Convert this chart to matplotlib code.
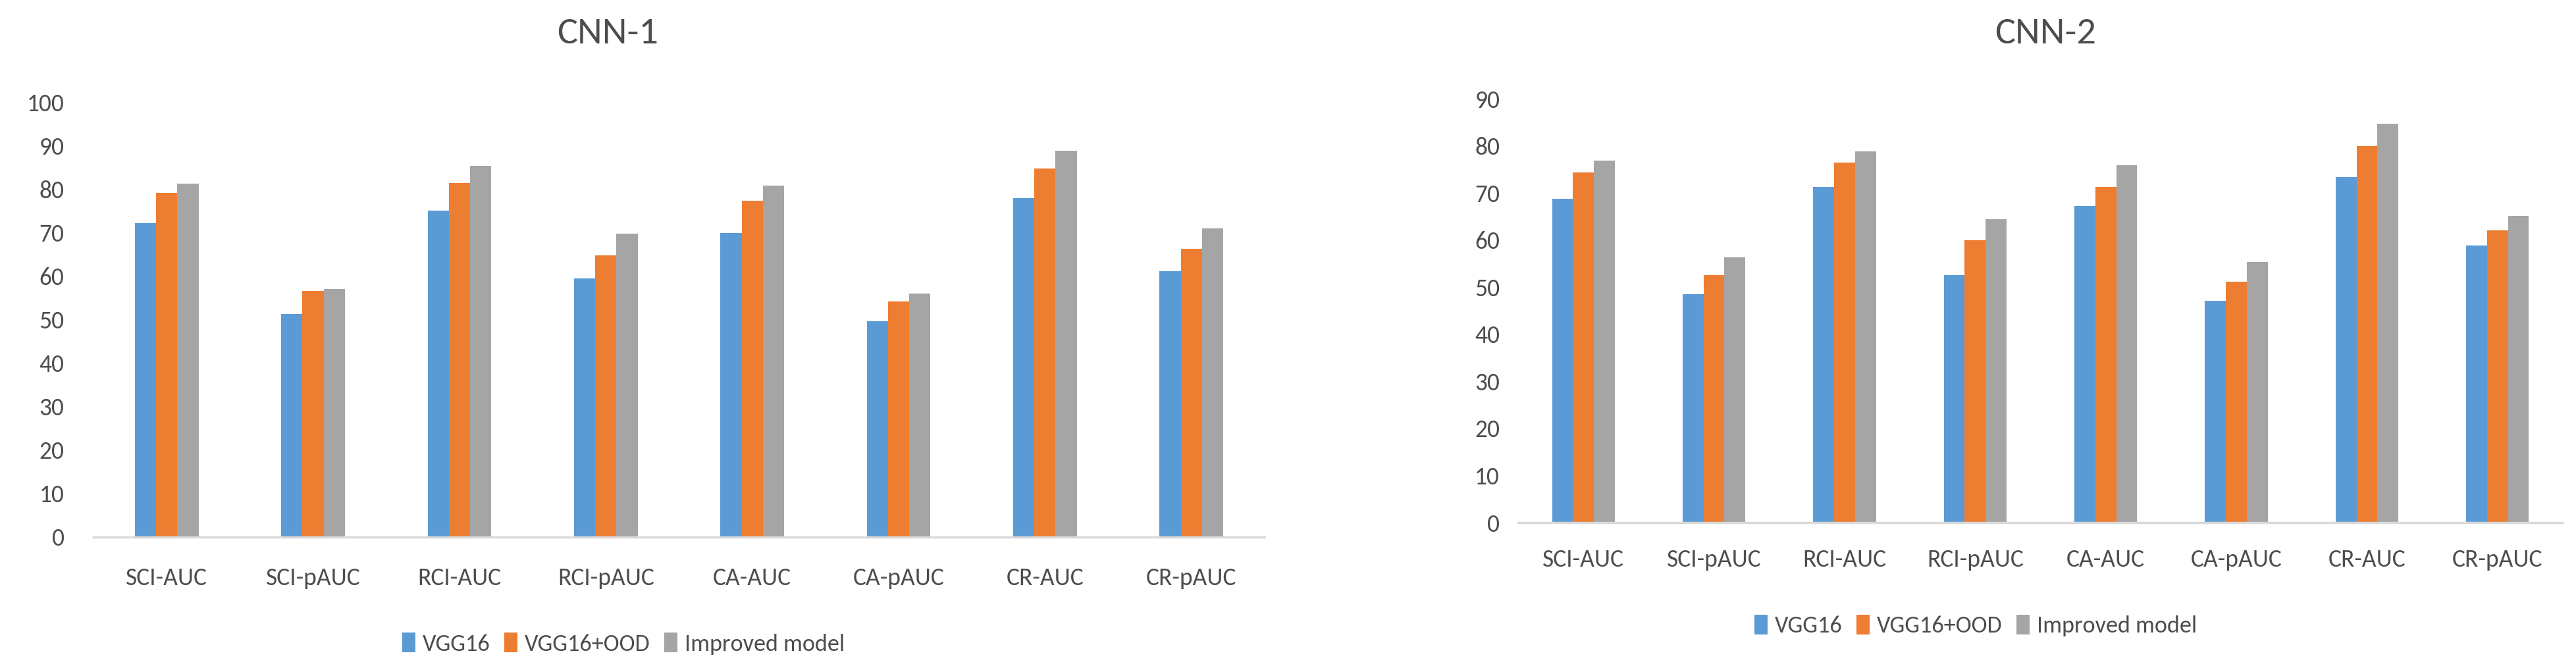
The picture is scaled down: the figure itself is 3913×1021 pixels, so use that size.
import matplotlib
matplotlib.use("Agg")
import matplotlib.pyplot as plt
import numpy as np
from matplotlib import font_manager

# categories and values
categories = ["SCI-AUC", "SCI-pAUC", "RCI-AUC", "RCI-pAUC", "CA-AUC", "CA-pAUC", "CR-AUC", "CR-pAUC"]
series_names = ["VGG16", "VGG16+OOD", "Improved model"]

cnn1_vgg16 = [72.2, 51.3, 75.0, 59.4, 69.9, 49.7, 78.0, 61.2]
cnn1_vgg16_ood = [79.1, 56.6, 81.4, 64.7, 77.4, 54.1, 84.8, 66.3]
cnn1_improved = [81.3, 57.1, 85.3, 69.8, 80.8, 56.0, 88.9, 70.9]

cnn2_vgg16 = [68.7, 48.5, 71.3, 52.5, 67.2, 47.1, 73.4, 58.9]
cnn2_vgg16_ood = [74.4, 52.6, 76.5, 59.9, 71.3, 51.2, 80.0, 62.0]
cnn2_improved = [76.9, 56.3, 78.9, 64.5, 75.9, 55.3, 84.7, 65.1]

cnn1_ticks = list(range(0, 101, 10))
cnn2_ticks = list(range(0, 91, 10))

colors = ["#5B9BD5", "#ED7D31", "#A5A5A5"]
text_color = "#4D4D4D"

# pick a narrow-ish font if one is around (Excel used Calibri)
installed = {f.name for f in font_manager.fontManager.ttflist}
family = "DejaVu Sans"
for name in ["Carlito", "Liberation Sans Narrow", "Lato", "Open Sans"]:
    if name in installed:
        family = name
        break
plt.rcParams["font.family"] = family


def draw_panel(ax, series, ticks, bar_w, xpad, ypad):
    x = np.arange(len(categories))
    for i, (vals, name) in enumerate(zip(series, series_names)):
        ax.bar(x + (i - 1) * bar_w, vals, width=bar_w, color=colors[i], label=name)

    ax.set_xlim(-0.5, len(categories) - 0.5)
    ax.set_ylim(ticks[0], ticks[-1])
    ax.set_yticks(ticks)
    ax.set_xticks(x)
    ax.set_xticklabels(categories)

    for side in ["top", "right", "left"]:
        ax.spines[side].set_visible(False)
    ax.spines["bottom"].set_color("#D9D9D9")
    ax.spines["bottom"].set_linewidth(2.5)

    ax.tick_params(axis="x", length=0, pad=xpad, labelsize=27, labelcolor=text_color)
    ax.tick_params(axis="y", length=0, pad=ypad, labelsize=27, labelcolor=text_color)
    return ax


fig = plt.figure(figsize=(39.13, 10.21), dpi=100)

ax1 = fig.add_axes([0.0363, 0.2008, 0.4546, 0.6472])
draw_panel(ax1, [cnn1_vgg16, cnn1_vgg16_ood, cnn1_improved], cnn1_ticks, 0.145, 33, 32)

ax2 = fig.add_axes([0.5893, 0.2223, 0.4056, 0.6307])
draw_panel(ax2, [cnn2_vgg16, cnn2_vgg16_ood, cnn2_improved], cnn2_ticks, 0.16, 29, 20)

fig.text(0.236, 0.951, "CNN-1", ha="center", va="center", fontsize=42, color=text_color)
fig.text(0.794, 0.951, "CNN-2", ha="center", va="center", fontsize=42, color=text_color)

# legends sit under each chart, Excel style
for ax, pos in [(ax1, (0.242, 0.042)), (ax2, (0.767, 0.069))]:
    handles, labels = ax.get_legend_handles_labels()
    fig.legend(handles, labels, loc="center", bbox_to_anchor=pos, ncol=3, frameon=False,
               fontsize=26, labelcolor=text_color, handlelength=0.55, handleheight=0.9,
               handletextpad=0.3, columnspacing=0.6)

fig.savefig("out.png", dpi=100)
